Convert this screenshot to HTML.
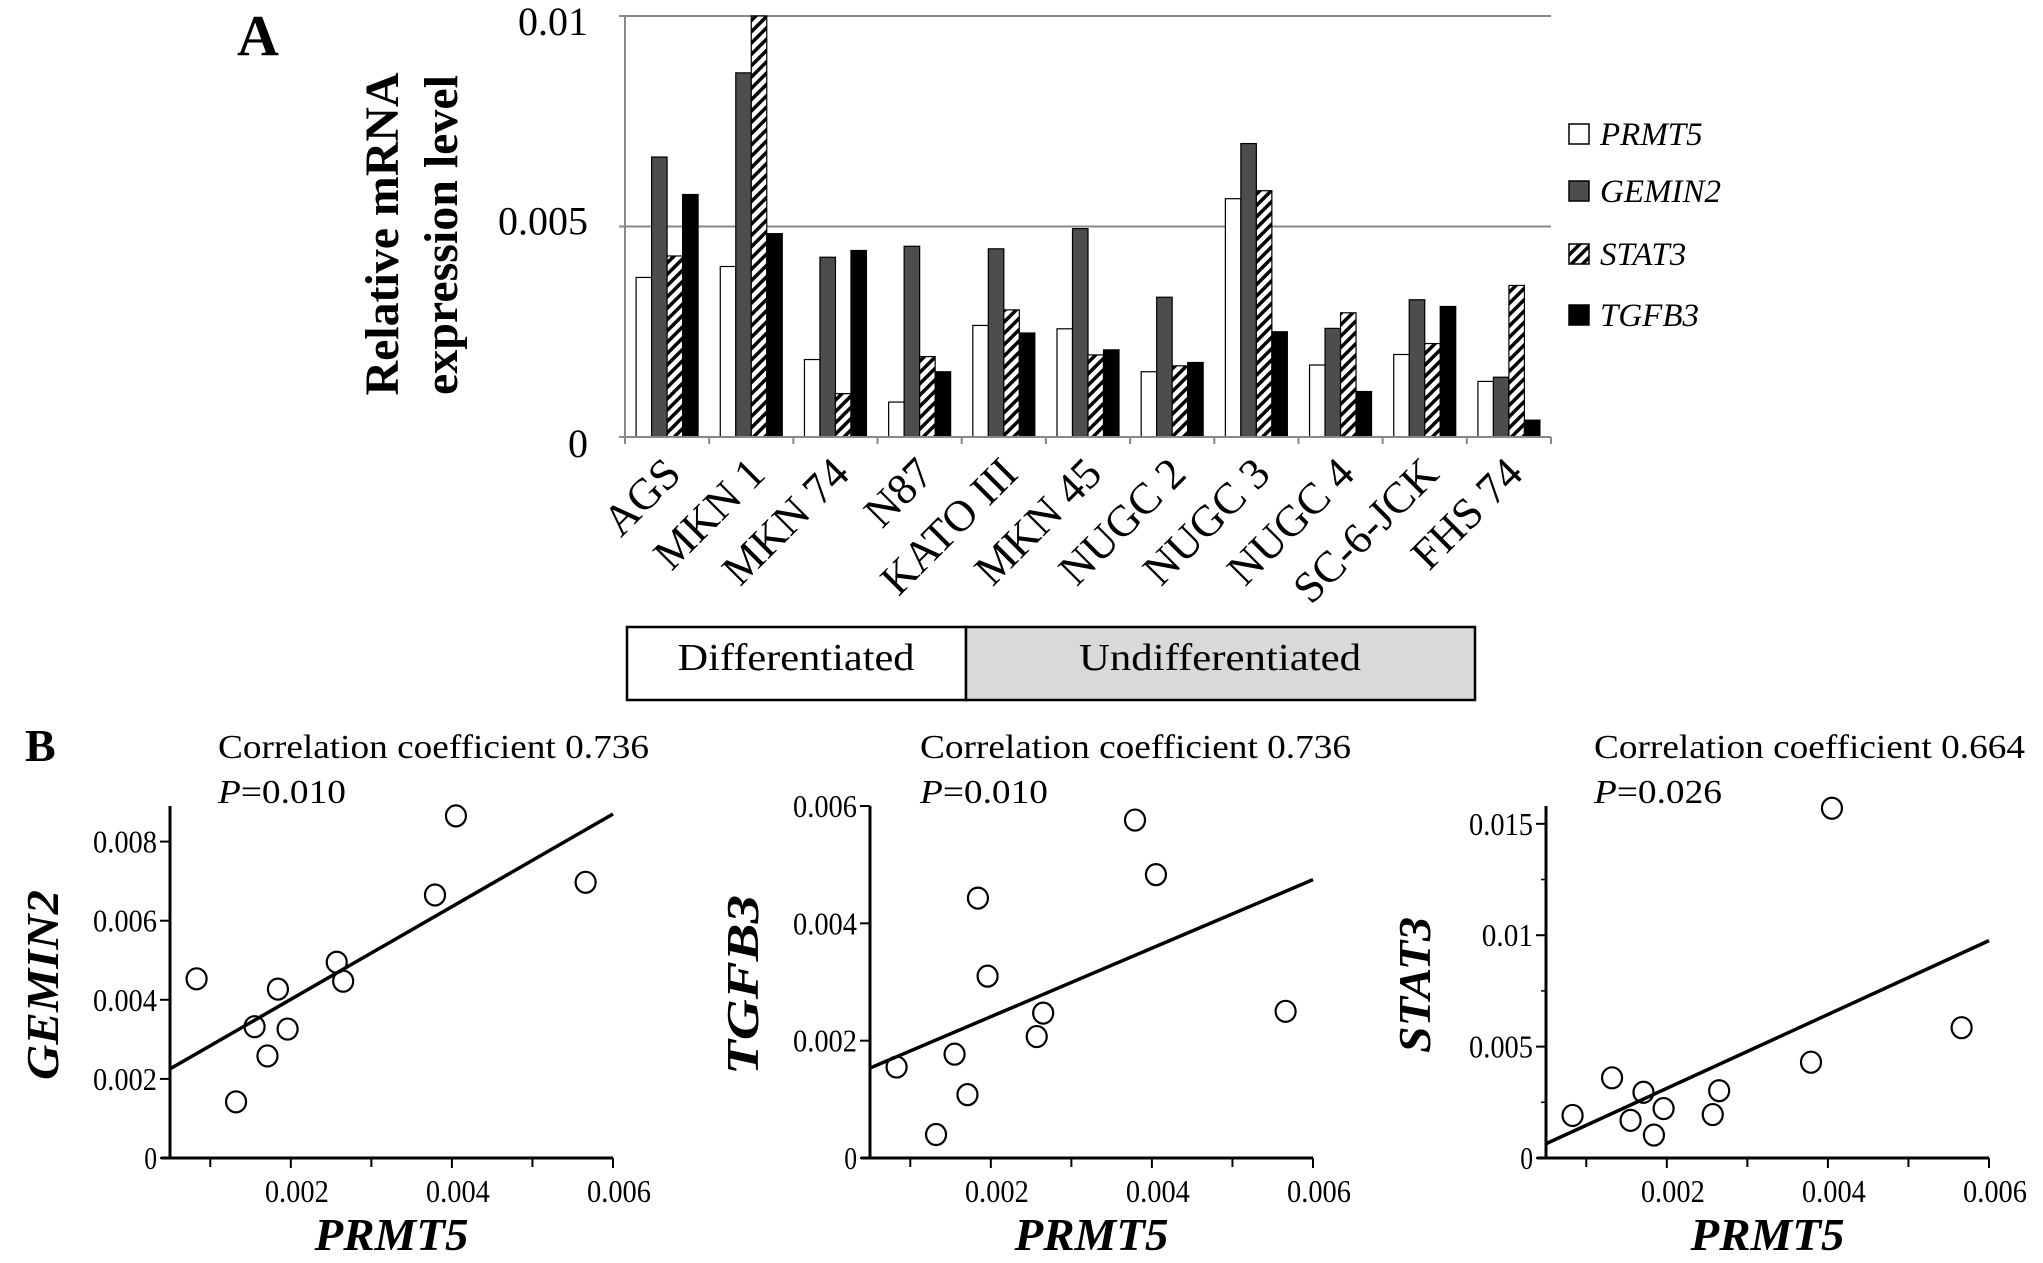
<!DOCTYPE html>
<html><head><meta charset="utf-8">
<style>
html,body{margin:0;padding:0;background:#fff;}
svg, svg text{font-family:"Liberation Serif","Times New Roman",serif;}
</style></head>
<body>
<svg id="fig" width="2043" height="1258" viewBox="0 0 2043 1258" xmlns="http://www.w3.org/2000/svg">
<defs>
<pattern id="hatch" patternUnits="userSpaceOnUse" width="8" height="8" patternTransform="rotate(45)">
<rect width="8" height="8" fill="#fff"/>
<rect x="0" y="0" width="3.5" height="8" fill="#000"/>
</pattern>
</defs>
<rect width="2043" height="1258" fill="#fff"/>
<text x="237" y="55" font-size="58" font-weight="bold">A</text>
<text x="25" y="761" font-size="46" font-weight="bold">B</text>
<g id="bar"></g>
<g id="sc1"></g>
<g id="sc2"></g>
<g id="sc3"></g>
</svg>
<script>
const categories = ["AGS","MKN 1","MKN 74","N87","KATO III","MKN 45","NUGC 2","NUGC 3","NUGC 4","SC-6-JCK","FHS 74"];
const seriesNames = ["PRMT5","GEMIN2","STAT3","TGFB3"];
const prmt5  = [0.00379,0.00405,0.00184,0.00083,0.00265,0.00257,0.00155,0.00566,0.00171,0.00196,0.00132];
const gemin2 = [0.00665,0.00865,0.00427,0.00453,0.00447,0.00495,0.00332,0.00697,0.00258,0.00326,0.00142];
const stat3  = [0.0043,0.0157,0.00103,0.00191,0.00302,0.00195,0.00169,0.00585,0.00295,0.00222,0.0036];
const tgfb3  = [0.00576,0.00483,0.00443,0.00155,0.00247,0.00207,0.00177,0.0025,0.00108,0.0031,0.0004];
const barTicks = [0,0.005,0.01];
const barTickLabels = ["0","0.005","0.01"];
const sc1Ticks = [0,0.002,0.004,0.006,0.008];
const sc1TickLabels = ["0","0.002","0.004","0.006","0.008"];
const sc2Ticks = [0,0.002,0.004,0.006];
const sc2TickLabels = ["0","0.002","0.004","0.006"];
const sc3Ticks = [0,0.005,0.01,0.015];
const sc3TickLabels = ["0","0.005","0.01","0.015"];
const xTicks = [0.002,0.004,0.006];
const xTickLabels = ["0.002","0.004","0.006"];
const xMinorTicks = [0.001,0.003,0.005];
const corrTexts = ["Correlation coefficient 0.736","Correlation coefficient 0.736","Correlation coefficient 0.664"];
const pTexts = ["=0.010","=0.010","=0.026"];

const NS="http://www.w3.org/2000/svg";
function mk(parent,tag,attrs,text){const e=document.createElementNS(NS,tag);for(const k in attrs)e.setAttribute(k,attrs[k]);if(text!==undefined)e.textContent=text;parent.appendChild(e);return e;}

// ---------- Bar chart ----------
const bar=document.getElementById('bar');
const bx0=625,bx1=1551,by0=437,by1=16,bmax=0.01;
const yB=v=>by0-(Math.min(v,bmax)/bmax)*(by0-by1);
const gw=(bx1-bx0)/categories.length;
const bw=15.5, boff=(gw-4*bw)/2;
const fills=["#fff","#4d4d4d","url(#hatch)","#000"];
const allSeries=[prmt5,gemin2,stat3,tgfb3];
barTicks.forEach((t,i)=>{
  if(t>0){const gl=mk(bar,'line',{x1:bx0,x2:bx1,y1:yB(t),y2:yB(t),stroke:'#888','stroke-width':2});
  }
  const tl=mk(bar,'text',{x:588,y:yB(t)+(t===0?20:(t===bmax?19:8)),'font-size':40,'text-anchor':'end'},barTickLabels[i]);
  
  const tk=mk(bar,'line',{x1:bx0-6,x2:bx0,y1:yB(t),y2:yB(t),stroke:'#888','stroke-width':2});
  
});
categories.forEach((c,ci)=>{
  const g0=bx0+ci*gw;
  allSeries.forEach((s,si)=>{
    const y=yB(s[ci]);
    const r=mk(bar,'rect',{x:g0+boff+si*bw,y:y,width:bw,height:by0-y,fill:fills[si],stroke:'#000','stroke-width':1.2});
    
    
  });
  const tk=mk(bar,'line',{x1:g0+gw,x2:g0+gw,y1:by0,y2:by0+7,stroke:'#888','stroke-width':2});
  
  const cx=g0+gw/2+16, cy=476;
  const lb=mk(bar,'text',{x:cx,y:cy,'font-size':44,'text-anchor':'end',transform:`rotate(-45 ${cx} ${cy})`},c);
  
});
const ax=mk(bar,'line',{x1:bx0,x2:bx0,y1:by1,y2:by0+7,stroke:'#888','stroke-width':2});

const axx=mk(bar,'line',{x1:bx0-6,x2:bx1,y1:by0,y2:by0,stroke:'#888','stroke-width':2});

const t1=mk(bar,'text',{x:0,y:0,'font-size':48,'font-weight':'bold','text-anchor':'middle',textLength:323,lengthAdjust:'spacingAndGlyphs',transform:'translate(398 234) rotate(-90)'},'Relative mRNA');

const t2=mk(bar,'text',{x:0,y:0,'font-size':48,'font-weight':'bold','text-anchor':'middle',textLength:320,lengthAdjust:'spacingAndGlyphs',transform:'translate(457 235) rotate(-90)'},'expression level');

// legend
const legY=[134,191,254,315];
seriesNames.forEach((n,i)=>{
  const sq=mk(bar,'rect',{x:1569,y:legY[i]-10,width:20,height:20,fill:fills[i],stroke:'#000','stroke-width':1.5});
  
  const lt=mk(bar,'text',{x:1600,y:legY[i]+11,'font-size':33,'font-style':'italic'},n);
  
});
// group box
const b1=mk(bar,'rect',{x:627,y:627,width:339,height:73,fill:'#fff',stroke:'#000','stroke-width':2.5});

const b2=mk(bar,'rect',{x:966,y:627,width:509,height:73,fill:'#d9d9d9',stroke:'#000','stroke-width':2.5});

const bt1=mk(bar,'text',{x:796,y:670,'font-size':38,'text-anchor':'middle',textLength:237,lengthAdjust:'spacingAndGlyphs'},'Differentiated');

const bt2=mk(bar,'text',{x:1220,y:670,'font-size':38,'text-anchor':'middle',textLength:282,lengthAdjust:'spacingAndGlyphs'},'Undifferentiated');


// ---------- Scatter plots ----------
function scatter(gid,ox,ys,ymax,yTicks,yLabels,minorY,yTitle,titleX,titleLen,textX,k){
  const g=document.getElementById(gid);
  const x0=ox, x1=ox+443, y0=1158, yTop=806;
  const xmin=0.0005,xmax=0.006;
  const X=v=>x0+(v-xmin)/(xmax-xmin)*(x1-x0);
  const Y=v=>y0-v/ymax*(y0-yTop);
  const ya=mk(g,'line',{x1:x0,x2:x0,y1:yTop,y2:y0,stroke:'#000','stroke-width':3});
  
  const xa=mk(g,'line',{x1:x0-9,x2:x1,y1:y0,y2:y0,stroke:'#000','stroke-width':3});
  
  yTicks.forEach((t,i)=>{
    const tk=mk(g,'line',{x1:x0-10,x2:x0,y1:Y(t),y2:Y(t),stroke:'#000','stroke-width':2});
    
    const tl=mk(g,'text',{x:x0-13,y:Y(t)+11,'font-size':32,'text-anchor':'end',textLength:yLabels[i].length*12.8,lengthAdjust:'spacingAndGlyphs'},yLabels[i]);
    
  });
  minorY.forEach(t=>{
    const tk=mk(g,'line',{x1:x0-5,x2:x0,y1:Y(t),y2:Y(t),stroke:'#000','stroke-width':1.5});
    
  });
  xTicks.forEach((t,i)=>{
    const tk=mk(g,'line',{x1:X(t),x2:X(t),y1:y0,y2:y0+10,stroke:'#000','stroke-width':2});
    
    const tl=mk(g,'text',{x:X(t)+6,y:y0+44,'font-size':32,'text-anchor':'middle',textLength:64,lengthAdjust:'spacingAndGlyphs'},xTickLabels[i]);
    
  });
  xMinorTicks.forEach(t=>{
    const tk=mk(g,'line',{x1:X(t),x2:X(t),y1:y0,y2:y0+9,stroke:'#000','stroke-width':2});
    
  });
  // regression line (least squares)
  const n=prmt5.length;let mx=0,my=0;for(let i=0;i<n;i++){mx+=prmt5[i];my+=ys[i];}mx/=n;my/=n;
  let sxy=0,sxx=0;for(let i=0;i<n;i++){sxy+=(prmt5[i]-mx)*(ys[i]-my);sxx+=(prmt5[i]-mx)**2;}
  const b=sxy/sxx,a=my-b*mx;
  const rl=mk(g,'line',{x1:X(xmin),y1:Y(a+b*xmin),x2:X(xmax),y2:Y(a+b*xmax),stroke:'#000','stroke-width':3.5});
  
  for(let i=0;i<n;i++){
    const c=mk(g,'ellipse',{cx:X(prmt5[i]),cy:Y(ys[i]),rx:10,ry:10.5,fill:'none',stroke:'#000','stroke-width':2.2});
    
  }
  const yt=mk(g,'text',{x:0,y:0,'font-size':46,'font-weight':'bold','font-style':'italic','text-anchor':'middle',textLength:titleLen,lengthAdjust:'spacingAndGlyphs',transform:`translate(${titleX} 985) rotate(-90)`},yTitle);
  
  const xt=mk(g,'text',{x:(x0+x1)/2,y:1250,'font-size':46,'font-weight':'bold','font-style':'italic','text-anchor':'middle',textLength:154,lengthAdjust:'spacingAndGlyphs'},'PRMT5');
  
  const ct=mk(g,'text',{x:textX,y:758,'font-size':34,textLength:431,lengthAdjust:'spacingAndGlyphs'},corrTexts[k]);
  
  const pt=mk(g,'text',{x:textX,y:803,'font-size':34,textLength:128,lengthAdjust:'spacingAndGlyphs'});
  
  mk(pt,'tspan',{'font-style':'italic'},'P');
  mk(pt,'tspan',{},pTexts[k]);
}
scatter('sc1',170,gemin2,0.0089,sc1Ticks,sc1TickLabels,[],'GEMIN2',58,190,218,0);
scatter('sc2',870,tgfb3,0.006,sc2Ticks,sc2TickLabels,[],'TGFB3',758,180,920,1);
scatter('sc3',1546,stat3,0.0158,sc3Ticks,sc3TickLabels,[0.0025,0.0075,0.0125],'STAT3',1430,136,1594,2);
</script>
</body></html>
